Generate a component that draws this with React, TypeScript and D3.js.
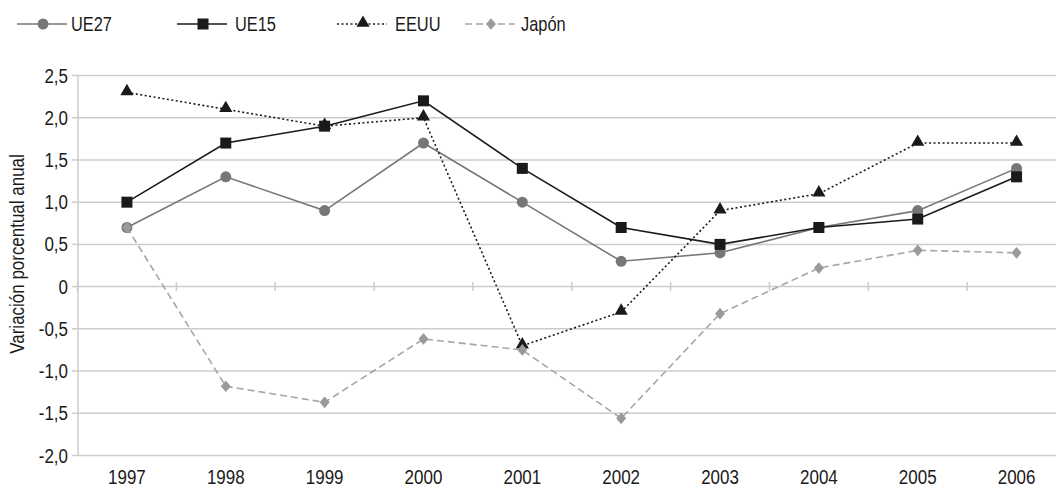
import React from "react";
import * as d3 from "d3";

const years = ["1997", "1998", "1999", "2000", "2001", "2002", "2003", "2004", "2005", "2006"];
const ue27 = [0.7, 1.3, 0.9, 1.7, 1.0, 0.3, 0.4, 0.7, 0.9, 1.4];
const ue15 = [1.0, 1.7, 1.9, 2.2, 1.4, 0.7, 0.5, 0.7, 0.8, 1.3];
const eeuu = [2.3, 2.1, 1.9, 2.0, -0.7, -0.3, 0.9, 1.1, 1.7, 1.7];
const japon = [0.7, -1.18, -1.37, -0.62, -0.75, -1.56, -0.32, 0.22, 0.43, 0.4];
const yTicks = [2.5, 2.0, 1.5, 1.0, 0.5, 0, -0.5, -1.0, -1.5, -2.0];
const yTitle = "Variación porcentual anual";

type Marker = "circle" | "square" | "triangle" | "diamond";
interface Series {
  name: string;
  values: number[];
  color: string;
  markerColor: string;
  dash: string | undefined;
  marker: Marker;
}

const series: Series[] = [
  { name: "UE27", values: ue27, color: "#777777", markerColor: "#777777", dash: undefined, marker: "circle" },
  { name: "UE15", values: ue15, color: "#1a1a1a", markerColor: "#1a1a1a", dash: undefined, marker: "square" },
  { name: "EEUU", values: eeuu, color: "#1a1a1a", markerColor: "#1a1a1a", dash: "2,2.5", marker: "triangle" },
  { name: "Japón", values: japon, color: "#a6a6a6", markerColor: "#9a9a9a", dash: "7,4", marker: "diamond" },
];

const W = 1056;
const H = 488;
const FONT = "'Liberation Sans', Arial, sans-serif";

const x = d3.scaleBand<string>().domain(years).range([77.5, 1066]);
const y = d3.scaleLinear().domain([-2, 2.5]).range([455.5, 75.5]);
const cx = (yr: string) => (x(yr) as number) + x.bandwidth() / 2;

const fmt = (v: number) => (v === 0 ? "0" : v.toFixed(1).replace(".", ","));

function Txt({
  px,
  py,
  anchor = "start",
  dy,
  rotate = 0,
  size = 19.5,
  sx = 0.87,
  children,
}: {
  px: number;
  py: number;
  anchor?: "start" | "middle" | "end";
  dy?: string;
  rotate?: number;
  size?: number;
  sx?: number;
  children: React.ReactNode;
}) {
  return (
    <text
      transform={`translate(${px},${py}) rotate(${rotate}) scale(${sx},1)`}
      textAnchor={anchor}
      dy={dy}
      fontSize={size}
      fill="#1a1a1a"
    >
      {children}
    </text>
  );
}

function MarkerShape({ type, px, py, fill }: { type: Marker; px: number; py: number; fill: string }) {
  if (type === "circle") return <circle cx={px} cy={py} r={5.5} fill={fill} />;
  if (type === "square") return <rect x={px - 5.5} y={py - 5.5} width={11} height={11} fill={fill} />;
  if (type === "triangle") {
    const p = d3.symbol(d3.symbolTriangle, 75)();
    return <path d={p as string} transform={`translate(${px},${py - 1})`} fill={fill} />;
  }
  const p = d3.symbol(d3.symbolDiamond, 55)();
  return <path d={p as string} transform={`translate(${px},${py}) scale(1.25,0.85)`} fill={fill} />;
}

const legendPos = [
  { x0: 17, tx: 71 },
  { x0: 177, tx: 235 },
  { x0: 337, tx: 395 },
  { x0: 465, tx: 521 },
];

export default function App() {
  const line = d3
    .line<number>()
    .x((_, i) => cx(years[i]))
    .y((v) => y(v));

  return (
    <svg
      width={W}
      height={H}
      style={{ position: "absolute", left: 0, top: 0, background: "#fff" }}
      fontFamily={FONT}
    >
      {/* horizontal gridlines */}
      {yTicks.map((t) => (
        <line key={t} x1={78} x2={W} y1={y(t)} y2={y(t)} stroke="#cccccc" strokeWidth={1.5} />
      ))}
      {/* y axis line and ticks */}
      <line x1={78} x2={78} y1={y(2.5)} y2={y(-2)} stroke="#cccccc" strokeWidth={1.5} />
      {yTicks.map((t) => (
        <line key={"t" + t} x1={72} x2={78} y1={y(t)} y2={y(t)} stroke="#cccccc" strokeWidth={1.5} />
      ))}
      {/* category ticks on the zero line */}
      {years.map((yr) => (
        <line
          key={"c" + yr}
          x1={x(yr) as number}
          x2={x(yr) as number}
          y1={y(0) - 4.5}
          y2={y(0) + 4.5}
          stroke="#cccccc"
          strokeWidth={1.5}
        />
      ))}
      {/* y tick labels */}
      {yTicks.map((t) => (
        <Txt key={"l" + t} px={68} py={y(t)} dy="0.36em" anchor="end">
          {fmt(t)}
        </Txt>
      ))}
      {/* x labels */}
      {years.map((yr) => (
        <Txt key={"x" + yr} px={cx(yr)} py={484} anchor="middle">
          {yr}
        </Txt>
      ))}
      {/* y axis title */}
      <Txt px={24} py={254} rotate={-90} anchor="middle">
        {yTitle}
      </Txt>
      {/* series */}
      {series.map((s) => (
        <g key={s.name}>
          <path
            d={line(s.values) as string}
            fill="none"
            stroke={s.color}
            strokeWidth={1.6}
            strokeDasharray={s.dash}
          />
          {s.values.map((v, i) => (
            <MarkerShape key={i} type={s.marker} px={cx(years[i])} py={y(v)} fill={s.markerColor} />
          ))}
        </g>
      ))}
      {/* legend */}
      {series.map((s, i) => {
        const lp = legendPos[i];
        return (
          <g key={"lg" + s.name}>
            <line
              x1={lp.x0}
              x2={lp.x0 + 50}
              y1={24}
              y2={24}
              stroke={s.color}
              strokeWidth={1.6}
              strokeDasharray={s.dash}
            />
            <MarkerShape type={s.marker} px={lp.x0 + 26} py={24} fill={s.markerColor} />
            <Txt px={lp.tx} py={24} dy="0.36em" size={20.5} sx={0.8}>
              {s.name}
            </Txt>
          </g>
        );
      })}
    </svg>
  );
}
